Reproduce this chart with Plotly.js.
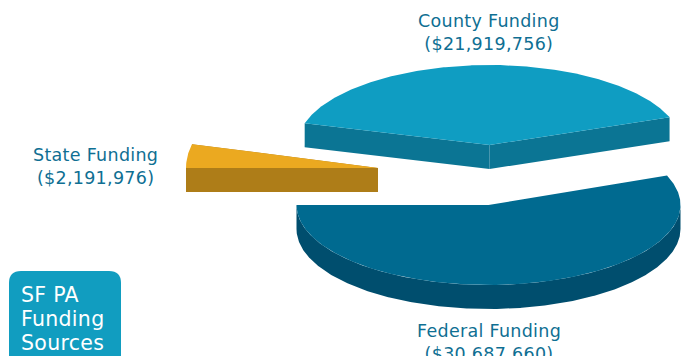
<!DOCTYPE html>
<html>
<head>
<meta charset="utf-8">
<script src="https://cdn.plot.ly/plotly-3.0.1.min.js"></script>
<style>
html,body{margin:0;padding:0;background:#fff;overflow:hidden}
#chart{width:686px;height:356px}
.annotation-text{letter-spacing:.3px}
</style>
</head>
<body>
<div id="chart"></div>
<script>
// Funding sources, in dollars
const sources = ["Federal Funding", "County Funding", "State Funding"];
const amounts = [30687660, 21919756, 2191976];
const amountLabels = ["($30,687,660)", "($21,919,756)", "($2,191,976)"];
const badgeLines = ["SF PA", "Funding", "Sources"];

// Tilted pie geometry; each slice is pulled away from the others
const radiusX = 192, depth = 24;
const radiusY = [80, 80, 96];
const pieStartDeg = 180;
const sliceTurnDeg = [0, -1.3, 0];
const hubX = [488.5, 489.5, 378];
const hubY = [205, 145, 168];
const topColors = ["#006a90", "#0f9dc2", "#eba920"];
const sideColors = ["#004e6e", "#0b7594", "#ae7d18"];
const textColor = "#0f6f93";
const fontFamily = "'DejaVu Sans', sans-serif";

const total = amounts.reduce((a, b) => a + b, 0);

// Point on a slice's rim, with angles measured counter-clockwise from east
function rim(i, deg, drop) {
  const r = deg * Math.PI / 180;
  return [hubX[i] + radiusX * Math.cos(r), hubY[i] - radiusY[i] * Math.sin(r) + drop];
}
function arc(i, from, to, drop) {
  const n = Math.max(2, Math.ceil(Math.abs(to - from) * 2));
  const pts = [];
  for (let k = 0; k <= n; k++) pts.push(rim(i, from + (to - from) * k / n, drop));
  return pts;
}
function polygon(pts, color) {
  return {
    type: "scatter", mode: "lines", fill: "toself", fillcolor: color,
    x: pts.map(p => p[0]), y: pts.map(p => p[1]),
    line: {width: 0, color: color}, hoverinfo: "skip", showlegend: false
  };
}

// Angular span of each slice, walking counter-clockwise from the Federal wedge
let spans = [], cursor = pieStartDeg;
amounts.forEach((v, i) => {
  const sweep = v / total * 360;
  spans.push([cursor + sliceTurnDeg[i], cursor + sweep + sliceTurnDeg[i]]);
  cursor += sweep;
});

const traces = [];
amounts.forEach((v, i) => {
  const [a, b] = spans[i];
  const hub = [hubX[i], hubY[i]];
  const hubLow = [hubX[i], hubY[i] + depth];
  if (a < 360 && b > 360) {
    // The front of the wedge shows its curved outer wall
    traces.push(polygon(arc(i, a, 360, 0).concat(arc(i, 360, a, depth)), sideColors[i]));
  } else {
    // Otherwise only the two cut faces can show below the top
    traces.push(polygon([rim(i, a, 0), hub, hubLow, rim(i, a, depth)], sideColors[i]));
    traces.push(polygon([rim(i, b, 0), hub, hubLow, rim(i, b, depth)], sideColors[i]));
  }
  traces.push(polygon([hub].concat(arc(i, a, b, 0)), topColors[i]));
});

const labelPos = [[489, 319], [489, 8.5], [95.5, 142.5]];
const annotations = sources.map((s, i) => ({
  x: labelPos[i][0], y: labelPos[i][1], xref: "x", yref: "y",
  xanchor: "center", yanchor: "top", align: "center", showarrow: false,
  text: s + "<br>" + amountLabels[i],
  font: {family: fontFamily, size: 17.5, color: textColor}
}));
const badgeY = [295, 319, 343];
badgeLines.forEach((line, i) => annotations.push({
  x: 19, y: badgeY[i], xref: "x", yref: "y", xanchor: "left", yanchor: "middle",
  align: "left", showarrow: false, text: line,
  font: {family: fontFamily, size: 20.5, color: "#ffffff"}
}));

const layout = {
  width: 686, height: 356,
  margin: {l: 0, r: 0, t: 0, b: 0},
  paper_bgcolor: "#ffffff", plot_bgcolor: "#ffffff",
  xaxis: {range: [0, 686], visible: false, fixedrange: true},
  yaxis: {range: [356, 0], visible: false, fixedrange: true},
  showlegend: false,
  shapes: [{
    type: "path", xref: "x", yref: "y", layer: "below",
    path: "M 9 370 L 9 283 Q 9 271 21 271 L 109 271 Q 121 271 121 283 L 121 370 Z",
    fillcolor: "#119dc0", line: {width: 0}
  }],
  annotations: annotations
};

Plotly.newPlot("chart", traces, layout, {displayModeBar: false, staticPlot: true});
</script>
</body>
</html>
